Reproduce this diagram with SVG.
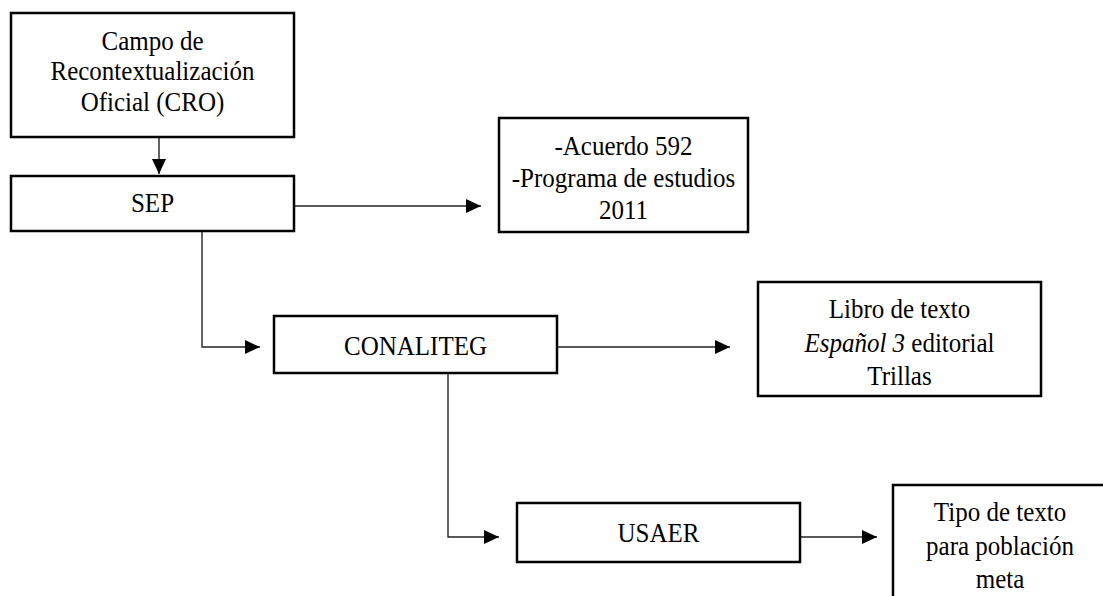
<svg xmlns="http://www.w3.org/2000/svg" width="1103" height="596" viewBox="0 0 1103 596">
<style>
.box{fill:#fff;stroke:#000;stroke-width:2.5}
.t{font-family:'Liberation Serif','Times New Roman','DejaVu Serif',serif;font-size:25px;fill:#000;text-anchor:middle}
.c{fill:none;stroke:#222;stroke-width:1.4}
</style>
<defs>
<marker id="ah" markerUnits="userSpaceOnUse" markerWidth="16" markerHeight="16" viewBox="0 0 16 16" refX="15" refY="8" orient="auto">
<path d="M0,1 L15,8 L0,15 Z" fill="#000"/>
</marker>
</defs>
<rect width="1103" height="596" fill="#fff"/>
<g id="connectors">
<line class="c" x1="159" y1="137" x2="159" y2="174" marker-end="url(#ah)"/>
<line class="c" x1="294" y1="206" x2="481" y2="206" marker-end="url(#ah)"/>
<polyline class="c" points="202,231 202,347 260,347" marker-end="url(#ah)"/>
<line class="c" x1="557" y1="347" x2="730" y2="347" marker-end="url(#ah)"/>
<polyline class="c" points="448,373 448,537 499,537" marker-end="url(#ah)"/>
<line class="c" x1="800" y1="537" x2="877" y2="537" marker-end="url(#ah)"/>
</g>
<g id="cro">
<rect class="box" x="11" y="13" width="283" height="124"/>
<text class="t" transform="matrix(1 0 0 1.1 152.5 50)">Campo de</text>
<text class="t" transform="matrix(1 0 0 1.1 152.5 80)">Recontextualización</text>
<text class="t" transform="matrix(1 0 0 1.1 152.5 111)">Oficial (CRO)</text>
</g>
<g id="sep">
<rect class="box" x="11" y="176" width="283" height="55"/>
<text class="t" transform="matrix(1 0 0 1.1 152.5 212)">SEP</text>
</g>
<g id="acuerdo">
<rect class="box" x="499" y="118" width="249" height="114"/>
<text class="t" transform="matrix(1 0 0 1.1 623.5 155)">-Acuerdo 592</text>
<text class="t" transform="matrix(1 0 0 1.1 623.5 187)">-Programa de estudios</text>
<text class="t" transform="matrix(1 0 0 1.1 623.5 219)">2011</text>
</g>
<g id="conaliteg">
<rect class="box" x="274" y="316" width="283" height="57"/>
<text class="t" transform="matrix(1 0 0 1.1 415.5 355)">CONALITEG</text>
</g>
<g id="libro">
<rect class="box" x="758" y="282" width="283" height="114"/>
<text class="t" transform="matrix(1 0 0 1.1 899.5 318)">Libro de texto</text>
<text class="t" transform="matrix(1 0 0 1.1 899.5 352)"><tspan font-style="italic">Español 3</tspan> editorial</text>
<text class="t" transform="matrix(1 0 0 1.1 899.5 385)">Trillas</text>
</g>
<g id="usaer">
<rect class="box" x="517" y="503" width="283" height="59"/>
<text class="t" transform="matrix(1 0 0 1.1 658.5 542)">USAER</text>
</g>
<g id="tipo">
<rect class="box" x="893" y="485" width="214" height="125"/>
<text class="t" transform="matrix(1 0 0 1.1 1000 521)">Tipo de texto</text>
<text class="t" transform="matrix(1 0 0 1.1 1000 555)">para población</text>
<text class="t" transform="matrix(1 0 0 1.1 1000 588)">meta</text>
</g>
</svg>
